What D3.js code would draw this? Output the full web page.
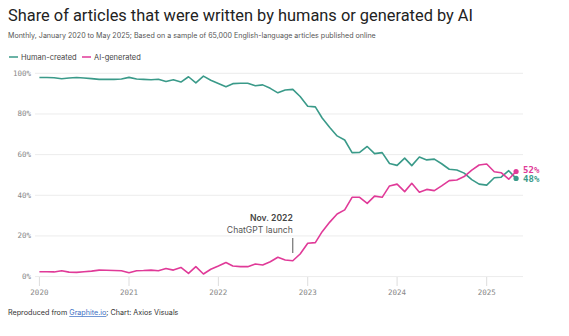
<!DOCTYPE html>
<html>
<head>
<meta charset="utf-8">
<script src="https://cdn.jsdelivr.net/npm/d3@7"></script>
<style>
  body { margin: 0; background: #fff; }
  text { font-family: "Inter", "Roboto", sans-serif; }
  .mono { font-family: "DejaVu Sans Mono", monospace; }
</style>
</head>
<body>
<div class="chart"></div>
<script>
// monthly, Jan 2020 .. May 2025
var startYear = 2020;
var human = [97.9, 97.9, 97.8, 97.3, 97.7, 97.9, 97.7, 97.4, 97.0, 97.0, 97.0, 97.2,
  98.0, 97.2, 97.0, 96.8, 97.1, 96.0, 96.8, 95.7, 98.3, 95.3, 98.6, 96.6,
  95.0, 93.4, 94.9, 95.1, 95.1, 93.9, 94.3, 92.6, 90.4, 91.8, 92.1, 88.6,
  83.8, 83.5, 78.0, 73.3, 69.2, 67.2, 61.0, 61.1, 64.0, 60.5, 61.0, 55.6,
  54.7, 58.3, 54.6, 58.8, 57.4, 57.8, 55.5, 52.8, 52.4, 50.9, 47.7, 45.5,
  45.0, 48.6, 48.9, 52.1, 48.3];
var ai = [2.4, 2.4, 2.3, 2.9, 2.2, 2.1, 2.4, 2.7, 3.2, 3.1, 3.0, 2.9,
  1.9, 2.9, 3.0, 3.2, 2.9, 4.0, 3.2, 4.5, 1.6, 4.9, 1.3, 3.6,
  5.2, 6.9, 5.2, 4.9, 4.9, 6.2, 5.7, 7.3, 9.5, 8.2, 7.8, 11.1,
  16.4, 16.7, 22.1, 26.8, 30.8, 32.8, 39.0, 39.0, 36.0, 39.6, 39.0, 44.6,
  45.5, 41.8, 45.9, 41.5, 42.9, 42.3, 44.6, 47.2, 47.5, 49.2, 52.4, 54.9,
  55.4, 51.6, 51.1, 47.9, 51.7];
var yearTicks = [2020, 2021, 2022, 2023, 2024, 2025];
var yTicks = [0, 20, 40, 60, 80, 100];
var seriesNames = ["Human-created", "AI-generated"];
var colors = ["#3a9a89", "#e03a98"];

var svgWidth = 569;
var svgHeight = 336;

var svg = d3.select(".chart")
  .append("svg")
  .attr("width", svgWidth)
  .attr("height", svgHeight);

var months = human.map(function(d, i) { return new Date(startYear, i, 1); });

var x = d3.scaleTime()
  .domain([new Date(2020, 0, 1), new Date(2025, 0, 1)])
  .range([39.4, 486.7]);
var y = d3.scaleLinear().domain([0, 100]).range([276.6, 73.3]);

// titles
svg.append("text").attr("x", 8).attr("y", 21)
  .style("font-family", "Roboto, sans-serif")
  .style("font-size", "16.8px").attr("fill", "#222")
  .attr("textLength", 465).attr("lengthAdjust", "spacingAndGlyphs")
  .text("Share of articles that were written by humans or generated by AI");
svg.append("text").attr("x", 8).attr("y", 38)
  .style("font-size", "7.1px").attr("fill", "#555")
  .text("Monthly, January 2020 to May 2025; Based on a sample of 65,000 English-language articles published online");

// legend
var legend = svg.selectAll(".legend").data(seriesNames).enter().append("g")
  .attr("transform", function(d, i) { return "translate(" + (9 + i * 73) + ",57)"; });
legend.append("line").attr("x1", 0).attr("x2", 9).attr("y1", 0).attr("y2", 0)
  .attr("stroke", function(d, i) { return colors[i]; }).attr("stroke-width", 1.5);
legend.append("text").attr("x", 12).attr("y", 3)
  .style("font-size", "7.5px").attr("fill", "#444")
  .text(function(d) { return d; });

// grid
svg.selectAll(".grid").data(yTicks).enter().append("line")
  .attr("x1", 35).attr("x2", 523)
  .attr("y1", function(d) { return y(d); }).attr("y2", function(d) { return y(d); })
  .attr("stroke", "#ececec").attr("stroke-width", 1);

svg.selectAll(".ylab").data(yTicks).enter().append("text")
  .attr("class", "mono")
  .attr("x", 31).attr("y", function(d) { return y(d) + 2.5; })
  .attr("text-anchor", "end")
  .style("font-size", "7.5px").attr("fill", "#888")
  .text(function(d) { return d + "%"; });

// x ticks
var xTicks = yearTicks.map(function(yr) { return new Date(yr, 0, 1); });
svg.selectAll(".xtick").data(xTicks).enter().append("line")
  .attr("x1", function(d) { return x(d); }).attr("x2", function(d) { return x(d); })
  .attr("y1", 277).attr("y2", 286)
  .attr("stroke", "#ddd");
svg.selectAll(".xlab").data(xTicks).enter().append("text")
  .attr("class", "mono")
  .attr("x", function(d) { return x(d); }).attr("y", 294.5)
  .attr("text-anchor", "middle")
  .style("font-size", "7.5px").attr("fill", "#888")
  .text(function(d) { return d.getFullYear(); });

// annotation
var nov = new Date(2022, 10, 1);
svg.append("line")
  .attr("x1", x(nov)).attr("x2", x(nov))
  .attr("y1", 238).attr("y2", 253)
  .attr("stroke", "#555").attr("stroke-width", 1);
svg.append("text").attr("x", x(nov)).attr("y", 221)
  .attr("text-anchor", "end").style("font-size", "8.6px")
  .style("font-weight", "600").attr("fill", "#444")
  .text("Nov. 2022");
svg.append("text").attr("x", x(nov)).attr("y", 232.5)
  .attr("text-anchor", "end").style("font-size", "8.6px")
  .attr("fill", "#555")
  .text("ChatGPT launch");

// lines
var line = d3.line()
  .x(function(d, i) { return x(months[i]); })
  .y(function(d) { return y(d); });

var series = [human, ai];
svg.selectAll(".series").data(series).enter().append("path")
  .attr("d", function(d) { return line(d); })
  .attr("fill", "none")
  .attr("stroke", function(d, i) { return colors[i]; })
  .attr("stroke-width", 1.6)
  .attr("stroke-linejoin", "round");

var last = months.length - 1;
svg.selectAll(".enddot").data(series).enter().append("circle")
  .attr("cx", x(months[last]))
  .attr("cy", function(d) { return y(d[last]); })
  .attr("r", 2.6)
  .attr("fill", function(d, i) { return colors[i]; });

svg.selectAll(".endlab").data(series).enter().append("text")
  .attr("class", "mono")
  .attr("x", x(months[last]) + 7)
  .attr("y", function(d, i) { return y(d[last]) + (i === 0 ? 4 : 2); })
  .style("font-size", "9px").style("font-weight", "bold")
  .attr("fill", function(d, i) { return colors[i]; })
  .text(function(d) { return Math.round(d[last]) + "%"; });

// footer
var foot = svg.append("text").attr("x", 8).attr("y", 315)
  .style("font-size", "7.2px").attr("fill", "#333");
foot.append("tspan").text("Reproduced from ");
foot.append("tspan").attr("fill", "#3b6fc4").style("text-decoration", "underline").text("Graphite.io");
foot.append("tspan").text("; Chart: Axios Visuals");
</script>
</body>
</html>
